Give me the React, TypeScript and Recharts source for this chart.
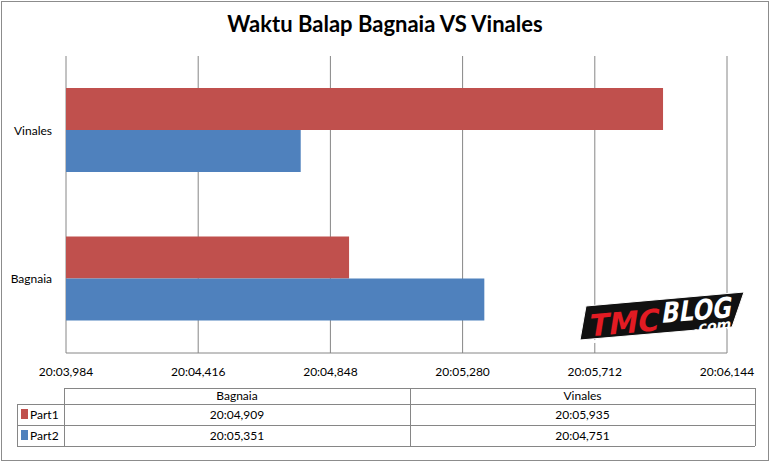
import React from "react";
import { BarChart, Bar, XAxis, YAxis, CartesianGrid } from "recharts";

const categories = ["Bagnaia", "Vinales"];
const part1 = [1204.909, 1205.935];
const part2 = [1205.351, 1204.751];
const seriesNames = ["Part1", "Part2"];
const seriesColors = ["#C0504D", "#4F81BD"];
const xTicks = [1203.984, 1204.416, 1204.848, 1205.28, 1205.712, 1206.144];
const title = "Waktu Balap Bagnaia VS Vinales";

const rows = categories.map((c, i) => ({ name: c, part1: part1[i], part2: part2[i] }));

const fmt = (v: number) => {
  const ms = Math.round(v * 1000);
  const m = Math.floor(ms / 60000);
  const rest = ms - m * 60000;
  const s = Math.floor(rest / 1000);
  const f = rest % 1000;
  return `${m}:${String(s).padStart(2, "0")},${String(f).padStart(3, "0")}`;
};

const FONT = "Lato, 'Open Sans', sans-serif";
const GRID = "#868686";

export default function App() {
  const seriesValues = [part1, part2];
  // table geometry
  const tx0 = 17, tx1 = 64, tx2 = 410, tx3 = 755;
  const ty0 = 388, ty1 = 404, ty2 = 425, ty3 = 446;
  const rowYs = [ty1, ty2, ty3];
  const colCenters = [(tx1 + tx2) / 2, (tx2 + tx3) / 2];
  return (
    <div style={{ position: "absolute", left: 0, top: 0, width: 771, height: 463, background: "#fff", fontFamily: FONT }}>
      <BarChart
        width={771}
        height={463}
        layout="vertical"
        data={rows}
        margin={{ top: 56, right: 44, bottom: 80, left: 0 }}
        barGap={0}
        barSize={42}
      >
        <CartesianGrid vertical horizontal={false} stroke={GRID} strokeWidth={1} />
        <XAxis
          type="number"
          domain={[xTicks[0], xTicks[xTicks.length - 1]]}
          ticks={xTicks}
          allowDataOverflow
          tickFormatter={fmt}
          axisLine={{ stroke: GRID }}
          tickLine={false}
          tickSize={0}
          tickMargin={14}
          height={30}
          interval={0}
          tick={{ fontSize: 12, fill: "#000", fontFamily: FONT }}
        />
        <YAxis
          type="category"
          dataKey="name"
          reversed
          width={66}
          axisLine={false}
          tickLine={false}
          tickSize={0}
          tickMargin={14}
          tick={{ fontSize: 12, fill: "#000", fontFamily: FONT }}
        />
        <Bar dataKey="part1" name={seriesNames[0]} fill={seriesColors[0]} isAnimationActive={false} />
        <Bar dataKey="part2" name={seriesNames[1]} fill={seriesColors[1]} isAnimationActive={false} />
      </BarChart>
      <svg width={771} height={463} style={{ position: "absolute", left: 0, top: 0, pointerEvents: "none" }}>
        <rect x={1.5} y={1.5} width={767} height={459} fill="none" stroke="#8c8c8c" strokeWidth={1} />
        <text x={385} y={32} textAnchor="middle" fontSize={22} fontWeight={700} fontFamily={FONT} fill="#000">
          {title}
        </text>
        {/* data table */}
        <g stroke={GRID} strokeWidth={1} shapeRendering="crispEdges">
          <line x1={tx1} y1={ty0 + 0.5} x2={tx3} y2={ty0 + 0.5} />
          {rowYs.map((y) => (
            <line key={y} x1={tx0} y1={y + 0.5} x2={tx3} y2={y + 0.5} />
          ))}
          <line x1={tx0 + 0.5} y1={ty1} x2={tx0 + 0.5} y2={ty3} />
          <line x1={tx1 + 0.5} y1={ty0} x2={tx1 + 0.5} y2={ty3} />
          <line x1={tx2 + 0.5} y1={ty0} x2={tx2 + 0.5} y2={ty3} />
          <line x1={tx3 + 0.5} y1={ty0} x2={tx3 + 0.5} y2={ty3} />
        </g>
        {categories.map((c, i) => (
          <text key={c} x={colCenters[i]} y={ty0 + 12} textAnchor="middle" fontSize={12} fontFamily={FONT} fill="#000">
            {c}
          </text>
        ))}
        {seriesValues.map((vals, si) => {
          const yTop = rowYs[si];
          return (
            <g key={si}>
              <rect x={21} y={yTop + 5} width={7} height={10} fill={seriesColors[si]} />
              <text x={30} y={yTop + 15} fontSize={12} fontFamily={FONT} fill="#000">
                {seriesNames[si]}
              </text>
              {vals.map((v, ci) => (
                <text key={ci} x={colCenters[ci]} y={yTop + 15} textAnchor="middle" fontSize={12} fontFamily={FONT} fill="#000">
                  {fmt(v)}
                </text>
              ))}
            </g>
          );
        })}
        {/* watermark logo */}
        <polygon points="586,306 744,292 732,327 580,340" fill="#111" stroke="#fff" strokeWidth={1} />
        <g transform="rotate(-5 662 316)">
          <g transform="translate(662 316) skewX(-14) translate(-662 -316)">
            <text x={590} y={330} fontSize={30} fontWeight={900} fontFamily="'DejaVu Sans Condensed', 'DejaVu Sans', sans-serif" fill="#e21b23" textLength={70} lengthAdjust="spacingAndGlyphs">
              TMC
            </text>
            <text x={662} y={323} fontSize={28} fontWeight={900} fontFamily="'DejaVu Sans Condensed', 'DejaVu Sans', sans-serif" fill="#fff" textLength={70} lengthAdjust="spacingAndGlyphs">
              BLOG
            </text>
            <text x={696} y={335} fontSize={14} fontWeight={900} fontFamily="'DejaVu Sans Condensed', 'DejaVu Sans', sans-serif" fill="#fff" textLength={38} lengthAdjust="spacingAndGlyphs">
              .com
            </text>
            <rect x={592} y={334} width={100} height={3} fill="#fff" />
          </g>
        </g>
      </svg>
    </div>
  );
}
